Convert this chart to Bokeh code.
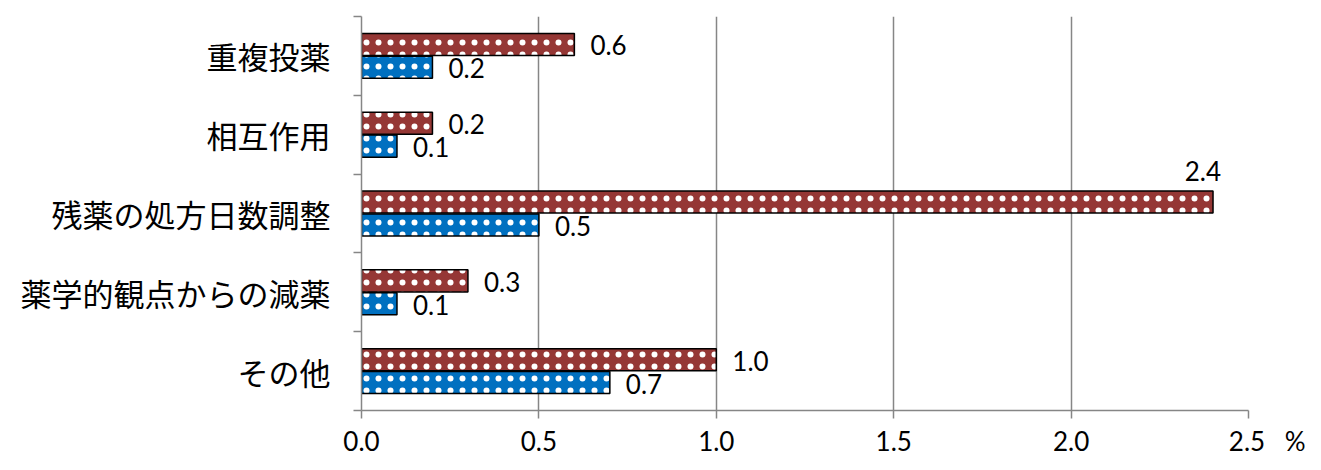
from bokeh.plotting import figure
from bokeh.models import ColumnDataSource, Range1d, FixedTicker
from bokeh.core.properties import value
from bokeh.embed import file_html
from bokeh.resources import INLINE

# ---- data (top to bottom as shown) ----
categories = ["重複投薬", "相互作用", "残薬の処方日数調整", "薬学的観点からの減薬", "その他"]
series_red = [0.6, 0.2, 2.4, 0.3, 1.0]
series_blue = [0.2, 0.1, 0.5, 0.1, 0.7]
x_ticks = [0.0, 0.5, 1.0, 1.5, 2.0, 2.5]
x_unit = "%"

X_MAX = 2.5
n = len(categories)
centers = [n - 1 - i + 0.5 for i in range(n)]

RED = "#953735"
BLUE = "#0070C0"
GRID = "#868686"
NUM_FONT = "Lato"
CJK_FONT = "Noto Sans CJK JP"

p = figure(width=1305, height=454, output_backend="svg", toolbar_location=None,
           x_range=Range1d(0, X_MAX), y_range=Range1d(0, n),
           min_border_left=361, min_border_right=57, min_border_top=16, min_border_bottom=44)
p.frame_width = 887
p.frame_height = 394
p.outline_line_color = None
p.background_fill_color = "white"
p.border_fill_color = "white"

off = 0.145
h = 0.28
red_y = [c + off for c in centers]
blue_y = [c - off for c in centers]

src_r = ColumnDataSource(dict(y=red_y, right=series_red))
src_b = ColumnDataSource(dict(y=blue_y, right=series_blue))

common = dict(left=0, height=h, line_color="black", line_width=1.5,
              hatch_pattern="dot", hatch_color="white", hatch_scale=12, hatch_weight=1)
p.hbar(y="y", right="right", source=src_r, fill_color=RED, **common)
p.hbar(y="y", right="right", source=src_b, fill_color=BLUE, **common)

# value labels
def lab_pos(vals, ys):
    xs, yy, tx, ta, dx, dy = [], [], [], [], [], []
    for v, y in zip(vals, ys):
        tx.append(f"{v:.1f}")
        xs.append(v); yy.append(y)
        if v + 0.15 > X_MAX:
            ta.append("right"); dx.append(8); dy.append(-31)
        else:
            ta.append("left"); dx.append(16); dy.append(1)
    return dict(x=xs, y=yy, text=tx, align=ta, dx=dx, dy=dy)

for vals, ys in ((series_red, red_y), (series_blue, blue_y)):
    s = ColumnDataSource(lab_pos(vals, ys))
    p.text(x="x", y="y", text="text", source=s, text_align="align",
           x_offset="dx", y_offset="dy", text_baseline="middle",
           text_font=value(NUM_FONT), text_font_size="26px", text_color="black")

# x axis
EM = "\u2003"
xa = p.xaxis[0]
xa.ticker = FixedTicker(ticks=x_ticks)
labels = {t: f"{t:.1f}" for t in x_ticks}
labels[x_ticks[-1]] = EM + EM + f"{x_ticks[-1]:.1f}" + EM + x_unit
xa.major_label_overrides = labels
xa.axis_line_color = GRID
xa.axis_line_width = 1.5
xa.major_tick_line_color = GRID
xa.major_tick_line_width = 1.5
xa.major_tick_out = 8
xa.major_tick_in = 0
xa.minor_tick_line_color = None
xa.major_label_standoff = 6
xa.major_label_text_font = NUM_FONT
xa.major_label_text_font_size = "26px"
xa.major_label_text_color = "black"

# y axis
ya = p.yaxis[0]
ya.ticker = FixedTicker(ticks=centers, minor_ticks=list(range(n + 1)))
ya.major_label_overrides = {c: cat for c, cat in zip(centers, categories)}
ya.axis_line_color = GRID
ya.axis_line_width = 1.5
ya.major_tick_line_color = None
ya.minor_tick_line_color = GRID
ya.minor_tick_line_width = 1.5
ya.minor_tick_out = 8
ya.minor_tick_in = 0
ya.major_label_standoff = 23
ya.major_label_text_font = CJK_FONT
ya.major_label_text_font_size = "31px"
ya.major_label_text_color = "black"

# grid
p.ygrid.grid_line_color = None
p.xgrid.ticker = FixedTicker(ticks=x_ticks[1:])
p.xgrid.grid_line_color = GRID
p.xgrid.grid_line_width = 1.5

open("out.html", "w").write(file_html(p, INLINE))
